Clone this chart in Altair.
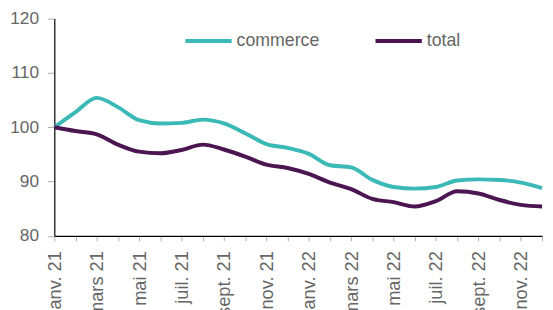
import json
import altair as alt
import pandas as pd

months = ["janv. 21", "févr. 21", "mars 21", "avr. 21", "mai 21", "juin 21",
          "juil. 21", "août 21", "sept. 21", "oct. 21", "nov. 21", "déc. 21",
          "janv. 22", "févr. 22", "mars 22", "avr. 22", "mai 22", "juin 22",
          "juil. 22", "août 22", "sept. 22", "oct. 22", "nov. 22", "déc. 22"]
commerce = [100.0, 102.8, 105.4, 103.7, 101.3, 100.7, 100.8, 101.4, 100.7, 98.9, 96.9, 96.2,
            95.1, 93.0, 92.6, 90.3, 89.0, 88.7, 89.0, 90.2, 90.4, 90.3, 89.8, 88.8]
total = [100.0, 99.3, 98.7, 96.8, 95.5, 95.2, 95.8, 96.8, 95.9, 94.6, 93.1, 92.5,
         91.4, 89.8, 88.6, 86.8, 86.2, 85.4, 86.4, 88.2, 87.8, 86.6, 85.7, 85.4]
series_names = ["commerce", "total"]
colors = ["#3ab9b6", "#4a1550"]
shown_labels = months[::2]

rows = []
for i, m in enumerate(months):
    rows.append({"mois": m, "serie": "commerce", "valeur": commerce[i]})
    rows.append({"mois": m, "serie": "total", "valeur": total[i]})
df = pd.DataFrame(rows)

FONT = "Liberation Sans"
GREY = "#666666"

label_expr = "indexof(" + json.dumps(shown_labels) + ", datum.value) >= 0 ? datum.value : ''"

chart = alt.Chart(df).mark_line(strokeWidth=4, interpolate="monotone").encode(
    x=alt.X("mois:N", sort=months, title=None,
            scale=alt.Scale(type="point", padding=0),
            axis=alt.Axis(labelAngle=-90, labelExpr=label_expr, labelFont=FONT,
                          labelFontSize=18.5, labelColor=GREY, labelPadding=10,
                          tickColor="#b0b0b0", tickSize=5, domainColor="#000000",
                          domainWidth=1.2, grid=False, labelOverlap=False,
                          labelAlign="right", labelBaseline="middle")),
    y=alt.Y("valeur:Q", title=None,
            scale=alt.Scale(domain=[80, 120], nice=False, zero=False),
            axis=alt.Axis(values=[80, 90, 100, 110, 120], labelFont=FONT,
                          labelFontSize=17.5, labelColor=GREY, labelPadding=9,
                          tickColor="#b0b0b0", tickSize=7, domainColor="#000000",
                          domainWidth=1.2, grid=False)),
    color=alt.Color("serie:N", sort=series_names,
                    scale=alt.Scale(domain=series_names, range=colors),
                    legend=alt.Legend(title=None, orient="none", direction="horizontal",
                                      legendX=131, legendY=-3, symbolType="stroke",
                                      symbolStrokeWidth=4, symbolSize=2209,
                                      labelFont=FONT, labelFontSize=18, labelColor=GREY,
                                      labelOffset=3, columnPadding=48)),
).properties(
    width=495, height=220.5,
    autosize=alt.AutoSizeParams(type="none"),
    padding={"left": 47, "top": 8.5, "right": 3, "bottom": 73},
).configure_view(stroke=None)

chart.save("out.html", embed_options={"renderer": "svg", "actions": False})
